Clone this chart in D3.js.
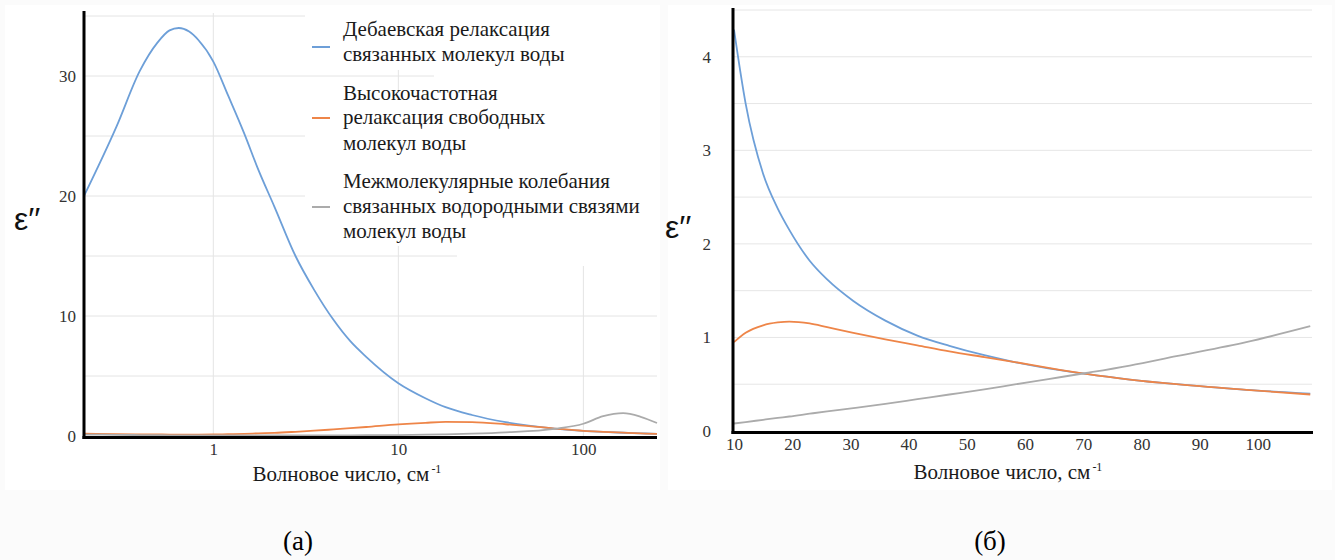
<!DOCTYPE html>
<html lang="ru">
<head>
  <meta charset="UTF-8">
  <title>Диэлектрические потери воды</title>
  <script src="https://d3js.org/d3.v7.min.js"></script>
  <style>
    body { margin: 0; background: #fbfbfb; }
    svg text { font-family: "Liberation Serif", "Times New Roman", Times, "DejaVu Serif", serif; }
  </style>
</head>
<body>
  <div id="root"></div>
  <script>
    // панель (а): волновое число в логарифмическом масштабе
    const waveA  = [0.2, 0.3, 0.4, 0.5, 0.58, 0.65, 0.74, 0.83, 1, 1.2, 1.47, 1.75, 2.14, 2.78, 3.5, 4.45, 5.5, 6.7, 10, 14, 18, 25, 38, 70, 100, 128, 164, 204, 250]
    const debyeA = [20.0, 25.8, 30.4, 32.8, 33.8, 34.0, 33.7, 33.0, 31.2, 28.4, 25.2, 22.2, 19.1, 15.0, 12.2, 9.7, 7.9, 6.6, 4.4, 3.15, 2.4, 1.75, 1.15, 0.62, 0.43, 0.34, 0.27, 0.22, 0.18]
    const fastA  = [0.2, 0.16, 0.14, 0.13, 0.12, 0.12, 0.12, 0.12, 0.13, 0.15, 0.18, 0.22, 0.26, 0.35, 0.44, 0.55, 0.65, 0.75, 0.97, 1.1, 1.17, 1.15, 0.98, 0.62, 0.43, 0.35, 0.28, 0.22, 0.17]
    const interA = [0.12, 0.1, 0.08, 0.07, 0.06, 0.06, 0.06, 0.06, 0.05, 0.05, 0.05, 0.05, 0.05, 0.05, 0.05, 0.06, 0.06, 0.07, 0.08, 0.11, 0.14, 0.2, 0.31, 0.6, 1.02, 1.65, 1.9, 1.6, 1.08]
    const ticksAx = [1, 10, 100]
    const ticksAy = [0, 10, 20, 30]
    const gridAy  = [5, 10, 15, 20, 25, 30, 35]

    // панель (б): линейный масштаб 10–110 см-1
    const waveB  = [10, 12, 15, 17.5, 19.5, 23, 26, 30.5, 36, 41.5, 47, 53, 58, 64, 70.5, 78, 86, 98, 109]
    const debyeB = [4.29, 3.5, 2.75, 2.38, 2.15, 1.82, 1.62, 1.39, 1.18, 1.02, 0.91, 0.81, 0.74, 0.67, 0.61, 0.55, 0.5, 0.44, 0.40]
    const fastB  = [0.95, 1.05, 1.13, 1.16, 1.17, 1.15, 1.11, 1.05, 0.98, 0.915, 0.85, 0.79, 0.74, 0.675, 0.61, 0.55, 0.5, 0.44, 0.39]
    const interB = [0.08, 0.095, 0.12, 0.14, 0.155, 0.185, 0.21, 0.245, 0.29, 0.34, 0.39, 0.445, 0.495, 0.555, 0.62, 0.7, 0.8, 0.95, 1.12]
    const ticksBx = [10, 20, 30, 40, 50, 60, 70, 80, 90, 100]
    const ticksBy = [0, 1, 2, 3, 4]
    const gridBy  = [0.5, 1, 1.5, 2, 2.5, 3, 3.5, 4, 4.5]

    const legendLines = [
      ['Дебаевская релаксация', 'связанных молекул воды'],
      ['Высокочастотная', 'релаксация свободных', 'молекул воды'],
      ['Межмолекулярные колебания', 'связанных водородными связями', 'молекул воды']
    ]
    const colors = ['#6d9fd8', '#ee8548', '#ababab']
    const serif = '"Liberation Serif", "Times New Roman", Times, "DejaVu Serif", serif'

    const svg = d3.select('#root')
      .append('svg')
      .attr('width', 1335)
      .attr('height', 560)
      .style('display', 'block')

    // белые подложки под картинками
    svg.append('rect').attr('x', 5).attr('y', 5).attr('width', 655).attr('height', 485).attr('fill', '#fff')
    svg.append('rect').attr('x', 668).attr('y', 5).attr('width', 664).attr('height', 485).attr('fill', '#fff')

    const line = (x, y, xs) => d3.line()
      .x((d, i) => x(xs[i]))
      .y(d => y(d))
      .curve(d3.curveMonotoneX)

    function styleTicks(g, size) {
      g.attr('font-family', null)
      g.select('.domain').remove()
      g.selectAll('text')
        .attr('fill', '#333')
        .style('font-size', size + 'px')
        .style('font-family', serif)
    }

    function axisTitle(cx, y) {
      const t = svg.append('text')
        .attr('x', cx).attr('y', y)
        .attr('text-anchor', 'middle')
        .attr('fill', '#1a1a1a')
        .style('font-family', serif)
        .style('font-size', '21px')
      t.append('tspan').text('Волновое число, см')
      t.append('tspan').attr('dx', 2).attr('dy', -8).style('font-size', '12px').text('-1')
    }

    function epsLabel(x, y) {
      svg.append('text')
        .attr('x', x).attr('y', y)
        .attr('fill', '#111')
        .style('font-family', '"Liberation Sans", Arial, sans-serif')
        .style('font-size', '32px')
        .text('ε′′')
    }

    // ---------- панель (а) ----------
    const xA = d3.scaleLog().domain([0.2, 250]).range([84, 657])
    const yA = d3.scaleLinear().domain([0, 35.25]).range([436, 13])

    const gA = svg.append('g')
    gA.selectAll('.hg').data(gridAy).enter().append('line')
      .attr('x1', 84).attr('x2', 657)
      .attr('y1', d => yA(d)).attr('y2', d => yA(d))
      .attr('stroke', '#e4e4e4')
    gA.selectAll('.vg').data(ticksAx).enter().append('line')
      .attr('x1', d => xA(d)).attr('x2', d => xA(d))
      .attr('y1', 13).attr('y2', 436)
      .attr('stroke', '#e4e4e4')

    // подложка легенды (вставленная картинка)
    const legendBg = [[305, 13, 352, 57], [434, 68, 223, 24], [305, 90, 352, 156], [457, 244, 200, 22]]
    gA.selectAll('.lbg').data(legendBg).enter().append('rect')
      .attr('x', d => d[0]).attr('y', d => d[1])
      .attr('width', d => d[2]).attr('height', d => d[3])
      .attr('fill', '#fff')

    ;[debyeA, fastA, interA].forEach((s, k) => {
      gA.append('path')
        .datum(s)
        .attr('d', line(xA, yA, waveA))
        .attr('fill', 'none')
        .attr('stroke', colors[k])
        .attr('stroke-width', 1.8)
    })

    gA.append('g')
      .attr('transform', 'translate(84,0)')
      .call(d3.axisLeft(yA).tickValues(ticksAy).tickSize(0).tickPadding(8))
      .call(g => styleTicks(g, 17))
    gA.append('g')
      .attr('transform', 'translate(0,437)')
      .call(d3.axisBottom(xA).tickValues(ticksAx).tickFormat(d3.format('d')).tickSize(0).tickPadding(6))
      .call(g => styleTicks(g, 17))

    gA.append('line').attr('x1', 84).attr('x2', 84).attr('y1', 11).attr('y2', 439)
      .attr('stroke', '#000').attr('stroke-width', 3)
    gA.append('line').attr('x1', 82.5).attr('x2', 657).attr('y1', 437.5).attr('y2', 437.5)
      .attr('stroke', '#000').attr('stroke-width', 3)

    // легенда
    const legendY = [[36, 61], [100, 124, 150], [188, 213, 238]]
    const markY = [47, 118, 207]
    legendLines.forEach((rows, k) => {
      gA.append('line')
        .attr('x1', 312).attr('x2', 330)
        .attr('y1', markY[k]).attr('y2', markY[k])
        .attr('stroke', colors[k]).attr('stroke-width', 2)
      rows.forEach((r, j) => {
        gA.append('text')
          .attr('x', 343).attr('y', legendY[k][j])
          .attr('fill', '#1a1a1a')
          .style('font-family', serif)
          .style('font-size', '21px')
          .text(r)
      })
    })

    epsLabel(14, 230)
    axisTitle(347, 481)

    // ---------- панель (б) ----------
    const xB = d3.scaleLinear().domain([10, 109.3]).range([734, 1312])
    const yB = d3.scaleLinear().domain([0, 4.5]).range([431, 10])

    const gB = svg.append('g')
    gB.selectAll('.hg').data(gridBy).enter().append('line')
      .attr('x1', 734).attr('x2', 1312)
      .attr('y1', d => yB(d)).attr('y2', d => yB(d))
      .attr('stroke', '#e6e6e6')

    ;[debyeB, fastB, interB].forEach((s, k) => {
      gB.append('path')
        .datum(s)
        .attr('d', line(xB, yB, waveB))
        .attr('fill', 'none')
        .attr('stroke', colors[k])
        .attr('stroke-width', 1.8)
    })

    gB.append('g')
      .attr('transform', 'translate(733,0)')
      .call(d3.axisLeft(yB).tickValues(ticksBy).tickFormat(d3.format('d')).tickSize(0).tickPadding(22))
      .call(g => styleTicks(g, 17))
    gB.append('g')
      .attr('transform', 'translate(0,433)')
      .call(d3.axisBottom(xB).tickValues(ticksBx).tickFormat(d3.format('d')).tickSize(0).tickPadding(5))
      .call(g => styleTicks(g, 17))

    gB.append('line').attr('x1', 733).attr('x2', 733).attr('y1', 8).attr('y2', 434)
      .attr('stroke', '#000').attr('stroke-width', 3)
    gB.append('line').attr('x1', 731.5).attr('x2', 1313).attr('y1', 432.5).attr('y2', 432.5)
      .attr('stroke', '#000').attr('stroke-width', 3)

    epsLabel(665, 238)
    axisTitle(1008, 479)

    // подписи панелей
    svg.append('text').attr('x', 298).attr('y', 550).attr('text-anchor', 'middle')
      .attr('fill', '#000').style('font-family', serif).style('font-size', '27px').text('(а)')
    svg.append('text').attr('x', 990).attr('y', 550).attr('text-anchor', 'middle')
      .attr('fill', '#000').style('font-family', serif).style('font-size', '27px').text('(б)')
  </script>
</body>
</html>
